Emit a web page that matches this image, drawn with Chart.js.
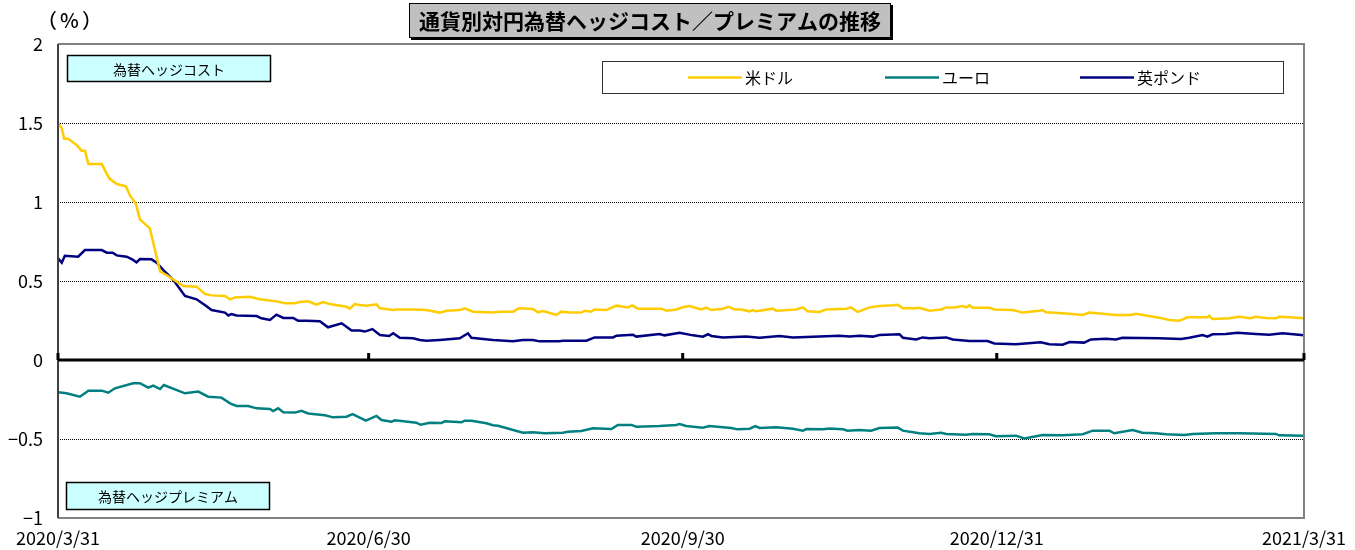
<!DOCTYPE html>
<html><head><meta charset="utf-8">
<script src="https://cdn.jsdelivr.net/npm/chart.js@4.4.0/dist/chart.umd.min.js"></script>
<style>html,body{margin:0;padding:0;background:#fff}#wrap{width:1355px;height:550px;position:relative}</style>
</head><body><div id="wrap"><canvas id="c" width="1355" height="550"></canvas></div>
<script>
// ---- data ----
const tickDays = [0, 91, 183, 275, 365];
const tickLabels = ['2020/3/31', '2020/6/30', '2020/9/30', '2020/12/31', '2021/3/31'];
const yTicks = [-1, -0.5, 0, 0.5, 1, 1.5, 2];
const seriesNames = ['米ドル', 'ユーロ', '英ポンド'];
const titleText = '通貨別対円為替ヘッジコスト／プレミアムの推移';
const unitText = '（%）';
const costLabel = '為替ヘッジコスト';
const premiumLabel = '為替ヘッジプレミアム';

const usdDays = [0,1.1,1.8,3.0,5.5,6.9,7.9,8.9,12.8,15.0,17.2,19.9,21.1,22.8,24.0,26.9,29.9,31.8,36.7,40.6,43.0,45.0,48.9,50.4,51.8,56.2,59.1,64.0,66.5,69.4,70.8,73.3,75.7,77.7,79.6,84.5,85.5,86.9,88.4,90.4,93.3,94.3,98.2,99.1,104.0,107.9,111.8,113.8,117.7,119.1,121.6,127.4,129.4,133.3,135.0,139.1,140.6,142.1,146.0,147.4,149.9,153.3,154.3,156.2,157.2,160.6,163.6,167.0,168.2,169.9,176.7,178.2,181.1,183.5,185.0,188.4,189.9,191.4,194.8,196.5,198.2,200.1,202.6,203.5,204.5,209.4,210.4,216.2,218.2,219.6,223.1,225.0,230.9,232.3,234.3,237.7,240.6,244.5,246.0,247.5,251.4,252.3,255.3,258.7,260.2,262.6,265.0,266.0,267.0,267.9,272.8,274.3,279.7,282.6,287.5,288.4,289.4,295.3,300.2,302.1,309.9,314.3,315.8,322.6,325.5,328.5,330.9,336.7,337.2,338.2,343.1,346.0,349.4,350.9,353.8,356.8,357.7,360.7,365.0];
const usdValues = [1.50,1.466,1.40,1.40,1.36,1.325,1.325,1.24,1.24,1.15,1.114,1.10,1.04,0.99,0.89,0.833,0.56,0.538,0.468,0.464,0.418,0.409,0.405,0.384,0.396,0.40,0.384,0.371,0.359,0.359,0.367,0.371,0.35,0.367,0.354,0.337,0.325,0.354,0.348,0.344,0.352,0.327,0.316,0.32,0.32,0.316,0.30,0.312,0.316,0.327,0.306,0.30,0.306,0.306,0.327,0.323,0.302,0.31,0.285,0.306,0.30,0.30,0.312,0.306,0.32,0.316,0.344,0.333,0.346,0.325,0.325,0.312,0.32,0.337,0.342,0.32,0.331,0.316,0.325,0.337,0.32,0.32,0.308,0.316,0.308,0.325,0.312,0.32,0.333,0.308,0.304,0.32,0.325,0.333,0.304,0.333,0.342,0.346,0.35,0.327,0.327,0.331,0.312,0.32,0.333,0.333,0.342,0.333,0.346,0.331,0.331,0.32,0.316,0.30,0.312,0.316,0.302,0.295,0.285,0.30,0.285,0.285,0.293,0.268,0.253,0.249,0.27,0.27,0.28,0.259,0.264,0.274,0.264,0.274,0.266,0.264,0.274,0.27,0.264];

const eurDays = [0,2.5,6.4,8.9,12.8,14.7,16.7,22.0,24.0,26.4,27.9,29.9,31.0,37.2,41.1,44.0,47.9,50.4,52.3,55.7,58.2,62.1,63.0,64.5,66.0,69.4,71.3,73.3,78.2,80.6,84.5,86.3,90.2,93.3,94.8,97.7,98.7,105.0,106.2,108.9,112.3,113.3,118.2,119.1,121.1,125.5,127.4,128.9,136.2,139.1,142.6,147.9,149.4,153.3,156.7,162.1,164.0,168.0,169.4,176.2,181.1,182.1,184.0,188.9,190.8,197.2,199.1,202.6,204.3,205.5,210.4,215.3,218.2,219.2,224.0,226.0,229.9,231.3,234.8,238.2,240.6,246.0,247.5,251.4,252.3,255.3,258.7,260.2,266.0,267.9,272.8,274.8,280.6,283.1,288.4,294.3,300.2,303.1,308.0,309.4,314.8,317.7,321.6,324.6,329.9,332.4,339.2,346.0,356.8,357.7,365.0];
const eurValues = [-0.204,-0.211,-0.232,-0.194,-0.194,-0.207,-0.179,-0.147,-0.147,-0.175,-0.162,-0.184,-0.158,-0.211,-0.20,-0.232,-0.238,-0.274,-0.291,-0.291,-0.306,-0.31,-0.323,-0.306,-0.331,-0.333,-0.321,-0.338,-0.35,-0.363,-0.359,-0.342,-0.384,-0.354,-0.38,-0.39,-0.382,-0.397,-0.41,-0.397,-0.399,-0.388,-0.394,-0.384,-0.384,-0.40,-0.413,-0.416,-0.46,-0.458,-0.464,-0.46,-0.454,-0.449,-0.432,-0.437,-0.411,-0.411,-0.422,-0.418,-0.411,-0.405,-0.418,-0.428,-0.418,-0.43,-0.439,-0.435,-0.418,-0.43,-0.426,-0.435,-0.448,-0.437,-0.439,-0.433,-0.439,-0.448,-0.443,-0.447,-0.43,-0.428,-0.447,-0.46,-0.464,-0.468,-0.46,-0.468,-0.473,-0.468,-0.47,-0.483,-0.479,-0.496,-0.475,-0.477,-0.47,-0.447,-0.447,-0.464,-0.443,-0.46,-0.464,-0.47,-0.475,-0.468,-0.464,-0.464,-0.468,-0.477,-0.479];

const gbpDays = [0,1.1,2.0,5.9,7.9,12.8,14.3,16.0,17.2,20.1,21.6,23.0,24.0,27.4,28.9,30.8,33.8,37.2,40.6,43.0,45.0,48.9,49.9,50.8,52.3,58.2,59.6,62.1,64.0,66.0,68.9,70.3,72.8,76.7,79.1,83.1,86.0,88.4,89.9,92.1,94.3,97.0,98.2,100.1,104.0,106.0,107.9,111.8,117.7,120.1,121.1,127.4,133.3,136.2,139.1,141.1,146.8,147.9,154.8,157.2,162.6,163.6,168.4,169.4,176.2,177.7,182.1,186.0,188.9,190.4,191.4,194.8,201.6,205.5,211.4,215.3,223.1,228.9,231.9,234.8,238.7,240.6,246.5,247.5,251.4,253.3,255.3,260.2,262.1,267.0,272.3,274.3,280.6,287.9,290.4,294.3,296.3,300.6,302.6,307.0,309.9,311.8,322.6,329.0,331.4,335.3,336.7,338.2,342.1,345.5,350.9,354.8,358.7,365.0];
const gbpValues = [0.643,0.616,0.66,0.654,0.696,0.696,0.679,0.679,0.662,0.654,0.639,0.618,0.639,0.637,0.616,0.57,0.506,0.405,0.384,0.348,0.316,0.30,0.282,0.291,0.282,0.278,0.264,0.253,0.287,0.266,0.266,0.249,0.249,0.245,0.207,0.232,0.186,0.186,0.18,0.196,0.158,0.152,0.169,0.141,0.137,0.127,0.122,0.127,0.137,0.169,0.141,0.127,0.118,0.127,0.127,0.118,0.118,0.122,0.122,0.143,0.143,0.154,0.16,0.148,0.165,0.156,0.173,0.156,0.148,0.163,0.152,0.143,0.148,0.141,0.152,0.143,0.148,0.154,0.148,0.154,0.148,0.158,0.163,0.141,0.13,0.143,0.137,0.143,0.13,0.12,0.12,0.105,0.10,0.112,0.10,0.097,0.114,0.11,0.13,0.135,0.13,0.141,0.137,0.133,0.141,0.158,0.148,0.163,0.165,0.173,0.165,0.16,0.169,0.156];

const seriesColors = ['#FFCC00', '#008080', '#000080'];

function toPoints(days, vals) { return days.map((d, i) => ({ x: d, y: vals[i] })); }

const FONT = '"Noto Sans CJK JP", "Noto Sans", sans-serif';

const decorPlugin = {
  id: 'decor',
  beforeDatasetsDraw(chart) {
    const { ctx, chartArea: a, scales: { y } } = chart;
    ctx.save();
    ctx.strokeStyle = '#000';
    ctx.lineWidth = 1;
    ctx.setLineDash([1, 1]);
    yTicks.forEach(v => {
      if (v === 0 || v === yTicks[0] || v === yTicks[yTicks.length - 1]) return;
      const py = Math.round(y.getPixelForValue(v)) + 0.5;
      ctx.beginPath(); ctx.moveTo(a.left, py); ctx.lineTo(a.right, py); ctx.stroke();
    });
    ctx.restore();
  },
  afterDatasetsDraw(chart) {
    const { ctx, chartArea: a, scales: { x, y } } = chart;
    ctx.save();
    // borders
    ctx.lineWidth = 2;
    ctx.strokeStyle = '#808080';
    ctx.beginPath();
    ctx.moveTo(a.left, a.top); ctx.lineTo(a.right, a.top); ctx.lineTo(a.right, a.bottom); ctx.lineTo(a.left, a.bottom);
    ctx.stroke();
    ctx.strokeStyle = '#404040';
    ctx.beginPath(); ctx.moveTo(a.left, a.top); ctx.lineTo(a.left, a.bottom); ctx.stroke();
    // zero line + ticks
    const y0 = y.getPixelForValue(0);
    ctx.strokeStyle = '#000';
    ctx.lineWidth = 3;
    ctx.beginPath(); ctx.moveTo(a.left, y0); ctx.lineTo(a.right, y0); ctx.stroke();
    ctx.fillStyle = '#000';
    tickDays.forEach(d => {
      const px = x.getPixelForValue(d);
      ctx.fillRect(px - 1.5, y0 - 7, 3, 7);
    });
    // annotation boxes
    const box = (x0, y0b, w, h, text) => {
      ctx.fillStyle = '#CCFFFF';
      ctx.fillRect(x0, y0b, w, h);
      ctx.strokeStyle = '#000'; ctx.lineWidth = 1.5;
      ctx.strokeRect(x0, y0b, w, h);
      ctx.fillStyle = '#000';
      ctx.font = '14px ' + FONT;
      ctx.textAlign = 'center'; ctx.textBaseline = 'middle';
      ctx.fillText(text, x0 + w / 2, y0b + h / 2 + 1);
    };
    box(67.5, 55.5, 203, 26, costLabel);
    box(66.5, 482.5, 203, 27, premiumLabel);
    // legend
    ctx.fillStyle = '#fff';
    ctx.fillRect(602.5, 61.5, 681, 32);
    ctx.strokeStyle = '#333'; ctx.lineWidth = 1;
    ctx.strokeRect(602.5, 61.5, 681, 32);
    const legX = [688, 885, 1080];
    ctx.font = '16px ' + FONT;
    ctx.textAlign = 'left'; ctx.textBaseline = 'middle';
    seriesNames.forEach((n, i) => {
      ctx.strokeStyle = seriesColors[i]; ctx.lineWidth = 2.5;
      ctx.beginPath(); ctx.moveTo(legX[i], 77.5); ctx.lineTo(legX[i] + 54, 77.5); ctx.stroke();
      ctx.fillStyle = '#000';
      ctx.fillText(n, legX[i] + 57, 78);
    });
    ctx.restore();
  },
  afterDraw(chart) {
    const { ctx } = chart;
    ctx.save();
    // title box
    ctx.fillStyle = '#000';
    ctx.fillRect(411, 5, 482, 35);
    ctx.fillStyle = '#C0C0C0';
    ctx.fillRect(409, 3, 482, 35);
    ctx.strokeStyle = '#000'; ctx.lineWidth = 1;
    ctx.strokeRect(409.5, 3.5, 481, 34);
    ctx.fillStyle = '#000';
    ctx.font = 'bold 21px ' + FONT;
    ctx.textAlign = 'center'; ctx.textBaseline = 'middle';
    ctx.fillText(titleText, 650, 21);
    // unit
    ctx.font = '500 20px ' + FONT;
    ctx.letterSpacing = '3px';
    ctx.textAlign = 'center';
    ctx.fillText(unitText, 71, 20);
    ctx.restore();
  }
};

new Chart(document.getElementById('c'), {
  type: 'line',
  data: {
    datasets: [
      { label: seriesNames[0], data: toPoints(usdDays, usdValues), borderColor: seriesColors[0], borderWidth: 2.5, pointRadius: 0, tension: 0, fill: false },
      { label: seriesNames[1], data: toPoints(eurDays, eurValues), borderColor: seriesColors[1], borderWidth: 2.5, pointRadius: 0, tension: 0, fill: false },
      { label: seriesNames[2], data: toPoints(gbpDays, gbpValues), borderColor: seriesColors[2], borderWidth: 2.5, pointRadius: 0, tension: 0, fill: false }
    ]
  },
  options: {
    responsive: false,
    animation: false,
    devicePixelRatio: 1,
    layout: { padding: { top: 44, right: 49, left: 0, bottom: 0 } },
    plugins: { legend: { display: false }, title: { display: false }, tooltip: { enabled: false } },
    scales: {
      x: {
        type: 'linear', min: tickDays[0], max: tickDays[tickDays.length - 1],
        afterBuildTicks: s => { s.ticks = tickDays.map(v => ({ value: v })); },
        afterFit: s => { s.height = 32; },
        ticks: {
          autoSkip: false, maxRotation: 0, minRotation: 0, padding: 9, color: '#000',
          font: { size: 18, family: FONT },
          callback: v => { const i = tickDays.indexOf(v); return i >= 0 ? tickLabels[i] : ''; }
        },
        grid: { display: false, drawTicks: false },
        border: { display: false }
      },
      y: {
        type: 'linear', min: yTicks[0], max: yTicks[yTicks.length - 1],
        afterBuildTicks: s => { s.ticks = yTicks.map(v => ({ value: v })); },
        afterFit: s => { s.width = 58; },
        ticks: {
          padding: 15, color: '#000',
          font: { size: 18, family: FONT },
          callback: v => (v < 0 ? '\u2212' + String(-v) : String(v))
        },
        grid: { display: false, drawTicks: false },
        border: { display: false }
      }
    }
  },
  plugins: [decorPlugin]
});
</script>
</body></html>
